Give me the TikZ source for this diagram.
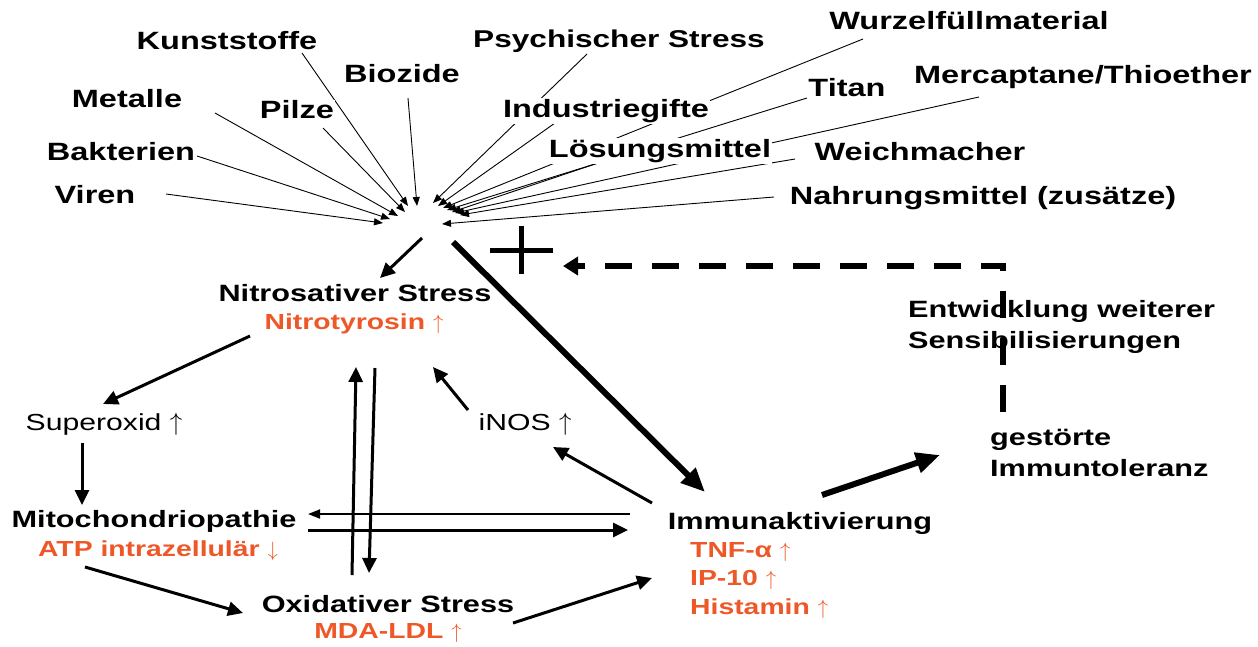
\documentclass[tikz,border=0pt]{standalone}
\usepackage{fontspec}
\setmainfont{Liberation Sans}[FakeStretch=1.3]
\usetikzlibrary{arrows.meta}
\definecolor{orangered}{RGB}{238,88,40}
\newcommand\toplab{\fontsize{25}{30}\selectfont\bfseries}
\newcommand\mainlab{\fontsize{23.6}{28}\selectfont\bfseries}
\newcommand\orlab{\fontsize{21.8}{26}\selectfont\bfseries\color{orangered}}
\newcommand\reglab{\fontsize{23.2}{28}\selectfont}
\newcommand\upar{\ $\uparrow$}
\newcommand\dnar{\ $\downarrow$}
\begin{document}
\begin{tikzpicture}[x=1pt,y=-1pt,
  toplabel/.style={inner sep=1pt,fill=white,font=\toplab},
  mainlabel/.style={inner sep=0pt,font=\mainlab},
  orlabel/.style={inner sep=0pt,font=\orlab},
  reglabel/.style={inner sep=0pt,font=\reglab},
  thinarr/.style={line width=0.9pt,-{Triangle[length=9pt,width=7pt]}},
  medarr/.style={line width=3pt,-{Triangle[length=15pt,width=14pt]}},
  slimarr/.style={line width=1.8pt,-{Triangle[length=12pt,width=9pt]}},
  thickarr/.style={line width=6pt,-{Triangle[length=24pt,width=20pt]}},
  dasharr/.style={line width=6pt,dash pattern=on 27pt off 20pt,-{Triangle[length=15pt,width=18pt]}}
]
\useasboundingbox (0,0) rectangle (1258,646);
\coordinate (hub) at (430,215);

% top label positions (drawn after the arrows)
\path
  (227,41) coordinate (kunstP)
  (402,74) coordinate (biozP)
  (619,41) coordinate (psyP)
  (969,21) coordinate (wurzP)
  (127,99) coordinate (metP)
  (297,110) coordinate (pilzP)
  (606,111) coordinate (induP)
  (847,88) coordinate (titanP)
  (1083,77) coordinate (mercP)
  (121,152) coordinate (baktP)
  (660,151) coordinate (loesP)
  (920,152) coordinate (weichP)
  (95,195) coordinate (virenP)
  (983,198) coordinate (nahrP);

% thin arrows converging
\draw[thinarr] ([shift={(71,-1)}]virenP) -- ([shift={(-47,8)}]hub);
\draw[thinarr] ([shift={(76,4)}]baktP) -- ([shift={(-40,4)}]hub);
\draw[thinarr] ([shift={(88,14)}]metP) -- ([shift={(-32,1)}]hub);
\draw[thinarr] ([shift={(26,18)}]pilzP) -- ([shift={(-25,-3)}]hub);
\draw[thinarr] ([shift={(75,12)}]kunstP) -- ([shift={(-22,-9)}]hub);
\draw[thinarr] ([shift={(6,24)}]biozP) -- ([shift={(-13,-9)}]hub);
\draw[thinarr] ([shift={(-32,13)}]psyP) -- ([shift={(3,-12)}]hub);
\draw[thinarr] ([shift={(-51,12)}]induP) -- ([shift={(8,-9)}]hub);
\draw[thinarr] ([shift={(-106,18)}]wurzP) -- ([shift={(13,-7)}]hub);
\draw[thinarr] ([shift={(-40,10)}]titanP) -- ([shift={(17,-5)}]hub);
\draw[thinarr] ([shift={(-53,9)}]loesP) -- ([shift={(22,-3)}]hub);
\draw[thinarr] ([shift={(-104,20)}]mercP) -- ([shift={(25,-2)}]hub);
\draw[thinarr] ([shift={(-125,7)}]weichP) -- ([shift={(30,0)}]hub);
\draw[thinarr] ([shift={(-209,-1)}]nahrP) -- ([shift={(12,9)}]hub);

% top labels
\node[toplabel] (kunst) at (kunstP) {Kunststoffe};
\node[toplabel] (bioz) at (biozP) {Biozide};
\node[toplabel,font=\fontsize{24.3}{29}\selectfont\bfseries] (psy) at (psyP) {Psychischer Stress};
\node[toplabel] (wurz) at (wurzP) {Wurzelfüllmaterial};
\node[toplabel] (met) at (metP) {Metalle};
\node[toplabel] (pilz) at (pilzP) {Pilze};
\node[toplabel] (indu) at (induP) {Industriegifte};
\node[toplabel] (titan) at (titanP) {Titan};
\node[toplabel] (merc) at (mercP) {Mercaptane/Thioether};
\node[toplabel] (bakt) at (baktP) {Bakterien};
\node[toplabel] (loes) at (loesP) {Lösungsmittel};
\node[toplabel] (weich) at (weichP) {Weichmacher};
\node[toplabel] (viren) at (virenP) {Viren};
\node[toplabel] (nahr) at (nahrP) {Nahrungsmittel (zusätze)};

% main nodes
\node[mainlabel] (nitro) at (355,293) {Nitrosativer Stress};
\node[orlabel] (nitroty) at (354,324) {Nitrotyrosin\upar};
\node[reglabel] (superox) at (104,424) {Superoxid\upar};
\node[mainlabel] (mito) at (154,521) {Mitochondriopathie};
\node[orlabel] (atp) at (158,551) {ATP intrazellulär\dnar};
\node[mainlabel] (oxi) at (388,604) {Oxidativer Stress};
\node[orlabel] (mda) at (388,633) {MDA-LDL\upar};
\node[reglabel] (inos) at (525,424) {iNOS\upar};
\node[mainlabel] (immun) at (800,523) {Immunaktivierung};
\node[orlabel,anchor=west] (tnf) at (690,552) {TNF-α\upar};
\node[orlabel,anchor=west] (ip) at (690,580) {IP-10\upar};
\node[orlabel,anchor=west] (hist) at (690,609) {Histamin\upar};
\node[mainlabel,anchor=west] (entw) at (908,311) {Entwicklung weiterer};
\node[mainlabel,anchor=west] (sens) at (908,342) {Sensibilisierungen};
\node[mainlabel,anchor=west] (gest) at (990,440) {gestörte};
\node[mainlabel,anchor=west] (immtol) at (990,468) {Immuntoleranz};

% connectors
\draw[medarr] ([shift={(-8,23)}]hub) -- ([shift={(25,-15)}]nitro.center);
\draw[thickarr] ([shift={(23,27)}]hub) -- ([shift={(-95,-31)}]immun.center);
\draw[medarr] ([shift={(-104,12)}]nitroty.center) -- ([shift={(-1,-20)}]superox.center);
\draw[medarr] ([shift={(-22,19)}]superox.center) -- ([shift={(-72,-16)}]mito.center);
\draw[medarr] ([shift={(-73,16)}]atp.center) -- ([shift={(-145,9)}]oxi.center);
\draw[medarr] ([shift={(125,19)}]oxi.center) -- ([shift={(-148,55)}]immun.center);
\draw[medarr] ([shift={(-36,-29)}]oxi.center) -- ([shift={(2,43)}]nitroty.center);
\draw[medarr] ([shift={(21,44)}]nitroty.center) -- ([shift={(-19,-31)}]oxi.center);
\draw[slimarr] ([shift={(-170,-9)}]immun.center) -- ([shift={(154,-7)}]mito.center);
\draw[medarr] ([shift={(154,9)}]mito.center) -- ([shift={(-172,7)}]immun.center);
\draw[medarr] ([shift={(-148,-20)}]immun.center) -- ([shift={(28,23)}]inos.center);
\draw[medarr] ([shift={(-57,-14)}]inos.center) -- ([shift={(79,43)}]nitroty.center);
\draw[thickarr] ([shift={(22,-28)}]immun.center) -- ([shift={(-50,15)}]gest.west);

% plus sign
\coordinate (plusC) at (521,250);
\draw[line width=5pt] ([xshift=-31]plusC) -- ([xshift=32]plusC);
\draw[line width=5pt] ([yshift=-24]plusC) -- ([yshift=24]plusC);

% dashed feedback
\coordinate (dashend) at (563,266);
\draw[dasharr] ([shift={(13,-28)}]gest.west) |- (dashend);
\end{tikzpicture}
\end{document}
